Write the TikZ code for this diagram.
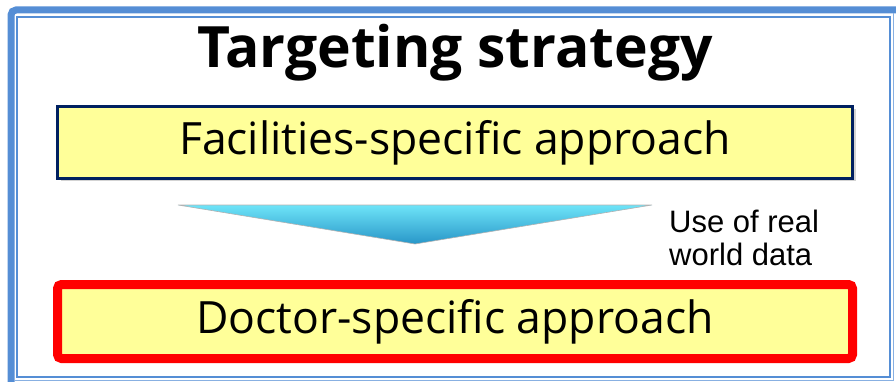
\documentclass[tikz,border=0pt]{standalone}
\usepackage{fontspec}
\setmainfont{Open Sans}
\setsansfont{Liberation Sans}
\usetikzlibrary{shadows}
\definecolor{frameblue}{RGB}{85,142,213}
\definecolor{boxyellow}{RGB}{255,255,153}
\definecolor{navyline}{RGB}{0,32,96}
\begin{document}
\begin{tikzpicture}[x=1pt,y=-1pt,
    approach/.style={fill=boxyellow,minimum width=795pt,inner sep=0pt,
      font=\fontsize{44.5}{47}\selectfont,
      drop shadow={shadow xshift=3pt,shadow yshift=-3pt,opacity=.35}}]
    \useasboundingbox (0,0) rectangle (896,382);
    % outer frame
    \draw[frameblue,line width=7pt,rounded corners=5pt] (11,382) -- (11,10) -- (896,10);
    \draw[frameblue,line width=1.2pt] (17,17) rectangle (890,377);
    \draw[frameblue!70,line width=1pt] (14,380.5) -- (893.5,380.5) -- (893.5,13);

    \node[font=\bfseries\fontsize{57}{60}\selectfont,anchor=base] (title) at (455,68) {Targeting strategy};

    \node[approach,draw=navyline,line width=3pt,minimum height=72pt] (facility) at (455,142.5) {Facilities-specific approach};
    \node[approach,draw=red,line width=9pt,minimum height=74pt,rounded corners=4pt] (doctor) at (455,321.5) {Doctor-specific approach};

    % arrow between the two approaches
    \coordinate (arrowL) at (178,205);
    \coordinate (arrowR) at (652,205);
    \coordinate (arrowTip) at (415,244);
    \shade[top color={rgb,255:red,110;green,228;blue,248},bottom color={rgb,255:red,40;green,150;blue,200},
      draw=gray!60,line width=.6pt] (arrowL) -- (arrowR) -- (arrowTip) -- cycle;

    \node[font=\sffamily\fontsize{31}{33}\selectfont,align=left,anchor=north west,inner sep=0pt] (rwd) at (669,209.5) {Use of real\\world data};
\end{tikzpicture}
\end{document}
